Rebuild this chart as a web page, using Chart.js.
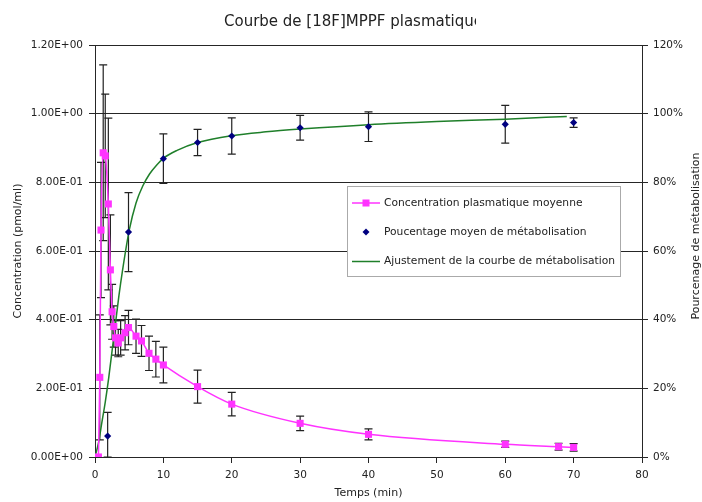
<!DOCTYPE html>
<html>
<head>
<meta charset="utf-8">
<title>Courbe de [18F]MPPF plasmatique</title>
<script src="https://cdn.jsdelivr.net/npm/chart.js@4.4.1/dist/chart.umd.min.js"></script>
<style>
  body { margin: 0; background: #fff; }
  #wrap { width: 702px; height: 502px; }
</style>
</head>
<body>
<div id="wrap"><canvas id="mppfChart" width="702" height="502"></canvas></div>
<script>
// concentration plasmatique moyenne (pmol/ml) +/- écart-type
const concTime = [0.5, 0.7, 0.88, 1.2, 1.5, 1.95, 2.25, 2.5, 2.75, 3.0, 3.4, 3.75, 4.4, 4.9, 6, 6.8, 7.9, 8.9, 10, 15, 20, 30, 40, 60, 67.8, 70];
const concMean = [0, 0.232, 0.661, 0.886, 0.877, 0.737, 0.545, 0.423, 0.38, 0.347, 0.332, 0.347, 0.362, 0.377, 0.352, 0.338, 0.302, 0.285, 0.268, 0.205, 0.154, 0.098, 0.066, 0.037, 0.030, 0.028];
const concErr = [0, 0.182, 0.197, 0.256, 0.18, 0.25, 0.16, 0.08, 0.06, 0.05, 0.04, 0.05, 0.05, 0.05, 0.05, 0.045, 0.05, 0.052, 0.052, 0.048, 0.034, 0.021, 0.016, 0.009, 0.01, 0.011];

// pourcentage moyen de métabolisation (%) +/- écart-type
const metabTime = [0, 1.85, 4.9, 10, 15, 20, 30, 40, 60, 70];
const metabPct = [0, 6.1, 65.5, 86.9, 91.6, 93.5, 95.9, 96.2, 96.9, 97.4];
const metabErr = [0, 6.9, 11.5, 7.2, 3.8, 5.3, 3.6, 4.3, 5.5, 1.4];

// courbe d'ajustement de la métabolisation
const fitTime = [0, 0.5, 1, 1.5, 2, 2.5, 3, 3.5, 4, 5, 6, 7, 8, 9, 10, 12, 15, 20, 25, 30, 40, 50, 60, 69];
const fitPct = [0, 4, 10, 16, 23, 31, 39, 47, 54, 66, 74, 79, 82.5, 85, 87, 89.3, 91.6, 93.6, 94.7, 95.5, 96.8, 97.7, 98.4, 99.2];

const leftTickLabels = ['0.00E+00', '2.00E-01', '4.00E-01', '6.00E-01', '8.00E-01', '1.00E+00', '1.20E+00'];
const rightTickLabels = ['0%', '20%', '40%', '60%', '80%', '100%', '120%'];

const seriesNames = ['Concentration plasmatique moyenne', 'Poucentage moyen de métabolisation', 'Ajustement de la courbe de métabolisation'];
const pink = '#ff33ff';
const navy = '#000080';
const green = '#1f7f2a';
const axisColor = '#262626';

function points(xs, ys) {
    return xs.map((x, i) => ({ x: x, y: ys[i] }));
}

// error bars, drawn below the markers
const errorBars = {
    id: 'errorBars',
    beforeDatasetsDraw(chart) {
        const c = chart.ctx;
        const x = chart.scales.x;
        const sets = [
            { t: concTime, v: concMean, e: concErr, y: chart.scales.y },
            { t: metabTime, v: metabPct, e: metabErr, y: chart.scales.y2 }
        ];
        c.save();
        c.strokeStyle = '#222';
        c.lineWidth = 1.2;
        sets.forEach(s => {
            s.t.forEach((t, i) => {
                if (!s.e[i]) return;
                const px = x.getPixelForValue(t);
                const top = s.y.getPixelForValue(s.v[i] + s.e[i]);
                const bot = s.y.getPixelForValue(Math.max(0, s.v[i] - s.e[i]));
                c.beginPath();
                c.moveTo(px, top); c.lineTo(px, bot);
                c.moveTo(px - 4, top); c.lineTo(px + 4, top);
                c.moveTo(px - 4, bot); c.lineTo(px + 4, bot);
                c.stroke();
            });
        });
        c.restore();
    }
};

// title, axis titles and legend box
const decorations = {
    id: 'decorations',
    afterDraw(chart) {
        const c = chart.ctx;
        const area = chart.chartArea;
        c.save();
        c.fillStyle = '#222';

        // the title box is narrower than its text
        c.save();
        c.beginPath();
        c.rect(0, 0, 476, 44);
        c.clip();
        c.font = '15px "DejaVu Sans", sans-serif';
        c.textAlign = 'left';
        c.textBaseline = 'middle';
        c.fillText('Courbe de [18F]MPPF plasmatique', 224, 22);
        c.restore();

        c.font = '11px "DejaVu Sans", sans-serif';
        c.textAlign = 'center';
        c.textBaseline = 'middle';
        c.fillText('Temps (min)', (area.left + area.right) / 2, 493);

        c.save();
        c.translate(18, 251);
        c.rotate(-Math.PI / 2);
        c.fillText('Concentration (pmol/ml)', 0, 0);
        c.restore();

        c.save();
        c.translate(696, 236);
        c.rotate(-Math.PI / 2);
        c.fillText('Pourcenage de métabolisation', 0, 0);
        c.restore();

        // legend
        const bx = 347.5, by = 186.5, bw = 273, bh = 90;
        c.fillStyle = '#fff';
        c.fillRect(bx, by, bw, bh);
        c.strokeStyle = '#aaa';
        c.lineWidth = 1;
        c.strokeRect(bx, by, bw, bh);

        const rows = [203, 232, 261.5];
        c.font = '10.7px "DejaVu Sans", sans-serif';
        c.textAlign = 'left';
        rows.forEach((ry, i) => {
            if (i === 0 || i === 2) {
                c.strokeStyle = i === 0 ? pink : green;
                c.lineWidth = 1.5;
                c.beginPath();
                c.moveTo(352, ry); c.lineTo(380, ry);
                c.stroke();
            }
            if (i === 0) {
                c.fillStyle = pink;
                c.fillRect(362.5, ry - 3.5, 7, 7);
            }
            if (i === 1) {
                c.fillStyle = navy;
                c.beginPath();
                c.moveTo(366, ry - 3.5); c.lineTo(369.5, ry);
                c.lineTo(366, ry + 3.5); c.lineTo(362.5, ry);
                c.closePath();
                c.fill();
            }
            c.fillStyle = '#222';
            c.fillText(seriesNames[i], 384, ry);
        });
        c.restore();
    }
};

Chart.defaults.font.family = '"DejaVu Sans", sans-serif';
Chart.defaults.font.size = 10.5;
Chart.defaults.color = '#222';

const ctx = document.getElementById('mppfChart').getContext('2d');
new Chart(ctx, {
    type: 'scatter',
    data: {
        datasets: [{
            label: seriesNames[0],
            data: points(concTime, concMean),
            yAxisID: 'y',
            showLine: true,
            borderColor: pink,
            backgroundColor: pink,
            borderWidth: 1.5,
            pointStyle: 'rect',
            pointRadius: 5,
            pointBorderWidth: 0,
            cubicInterpolationMode: 'monotone'
        }, {
            label: seriesNames[1],
            data: points(metabTime, metabPct),
            yAxisID: 'y2',
            showLine: false,
            borderColor: navy,
            backgroundColor: navy,
            pointStyle: 'rectRot',
            pointRadius: 3.6,
            pointBorderWidth: 0
        }, {
            label: seriesNames[2],
            data: points(fitTime, fitPct),
            yAxisID: 'y2',
            showLine: true,
            borderColor: green,
            borderWidth: 1.5,
            pointRadius: 0,
            cubicInterpolationMode: 'monotone'
        }]
    },
    options: {
        responsive: false,
        animation: false,
        layout: { padding: { top: 45 } },
        plugins: {
            legend: { display: false },
            title: { display: false },
            tooltip: { enabled: false }
        },
        scales: {
            x: {
                type: 'linear',
                min: 0,
                max: 80,
                ticks: { stepSize: 10, padding: 6 },
                grid: { drawOnChartArea: false, tickLength: 6, color: axisColor },
                border: { color: axisColor },
                afterFit: s => { s.height = 45; }
            },
            y: {
                position: 'left',
                min: 0,
                max: 1.2,
                ticks: { stepSize: 0.2, padding: 6, callback: (v, i) => leftTickLabels[i] },
                grid: { color: axisColor, tickLength: 6 },
                border: { color: axisColor },
                afterFit: s => { s.width = 95; }
            },
            y2: {
                position: 'right',
                min: 0,
                max: 120,
                ticks: { stepSize: 20, padding: 5, callback: (v, i) => rightTickLabels[i] },
                grid: { drawOnChartArea: false, tickLength: 6, color: axisColor },
                border: { color: axisColor },
                afterFit: s => { s.width = 60; }
            }
        }
    },
    plugins: [errorBars, decorations]
});
</script>
</body>
</html>
